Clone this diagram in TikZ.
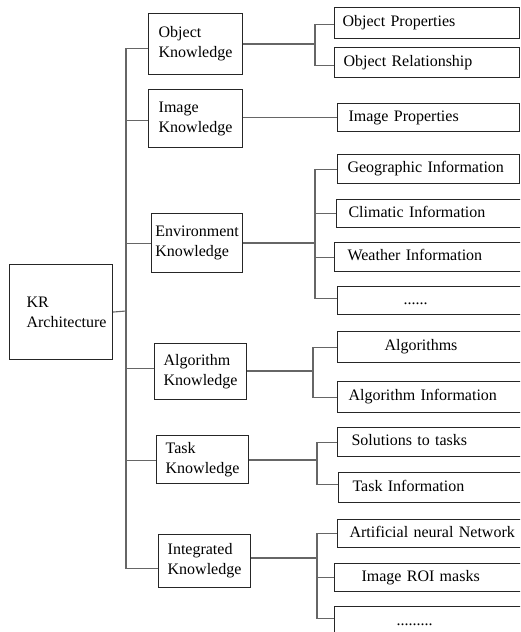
\documentclass[tikz,border=0pt]{standalone}
\usepackage{fontspec}
\setmainfont{Liberation Serif}
\begin{document}
\begin{tikzpicture}[x=1pt,y=-1pt,
  every node/.style={font=\fontsize{16}{20}\selectfont},
  main/.style={draw=black!85, line width=1.1pt, align=left, inner sep=0pt, anchor=north west},
  sub/.style={draw=black!85, line width=1.1pt, align=left, inner sep=0pt, text height=11pt, text depth=4pt, anchor=north west},
  conn/.style={draw=black!60, line width=1.1pt}]
\useasboundingbox (0,0) rectangle (520,632);
\clip (0,0) rectangle (520,632);
% main boxes
\node[main, minimum width=103, minimum height=95] (kr) at (9,264) {\hspace*{11pt}KR\\\hspace*{11pt}Architecture};
\node[main, minimum width=94, minimum height=61] (ok) at (148,13) {Object\\Knowledge};
\node[main, minimum width=94, minimum height=58] (ik) at (148,89) {Image\\Knowledge};
\node[main, minimum width=91, minimum height=59] (ek) at (151,213) {Environment\\Knowledge};
\node[main, minimum width=92, minimum height=56] (ak) at (154,343) {Algorithm\\Knowledge};
\node[main, minimum width=92, minimum height=48] (tk) at (156,435) {Task\\Knowledge};
\node[main, minimum width=92, minimum height=53] (ig) at (158,534) {Integrated\\Knowledge};
% sub boxes
\node[sub, text width=185, minimum height=31] (op) at (334,7) {\hspace*{8pt}Object Properties};
\node[sub, text width=185, minimum height=30] (orl) at (334,47) {\hspace*{9pt}Object Relationship};
\node[sub, text width=182, minimum height=28] (ip) at (337,103) {\hspace*{11pt}Image Properties};
\node[sub, text width=182, minimum height=29] (geo) at (337,154) {\hspace*{10pt}Geographic Information};
\node[sub, text width=200, minimum height=28] (cli) at (336,199) {\hspace*{12pt}Climatic Information};
\node[sub, text width=200, minimum height=29] (wea) at (334,242) {\hspace*{13pt}Weather Information};
\node[sub, text width=200, minimum height=28] (dots1) at (337,286) {\hspace*{66pt}......};
\node[sub, text width=200, minimum height=31] (alg) at (337,331) {\hspace*{47pt}Algorithms};
\node[sub, text width=200, minimum height=31] (algi) at (337,381) {\hspace*{11pt}Algorithm Information};
\node[sub, text width=200, minimum height=29] (sol) at (337,427) {\hspace*{14pt}Solutions to tasks};
\node[sub, text width=200, minimum height=30] (ti) at (338,472) {\hspace*{14pt}Task Information};
\node[sub, text width=200, minimum height=28] (ann) at (337,519) {\hspace*{12pt}Artificial neural Network};
\node[sub, text width=200, minimum height=28] (roi) at (334,563) {\hspace*{27pt}Image ROI masks};
\node[sub, text width=200, minimum height=44, text depth=17pt] (dots2) at (334,606) {\hspace*{62pt}.........};
% trunk
\coordinate (kj) at (126,311);
\draw[conn] (kr.east) -- (kj);
\draw[conn] ([yshift=-4.5pt]ok.west) -| (kj);
\draw[conn] ([yshift=-2pt]ik.west) -| (kj);
\draw[conn] (ek.west) -| (kj);
\draw[conn] ([yshift=3pt]ak.west) -| (kj);
\draw[conn] ([yshift=-1pt]tk.west) -| (kj);
\draw[conn] ([yshift=-7.5pt]ig.west) -| (kj);
% object branch
\coordinate (j1) at (315,44);
\draw[conn] (j1 -| ok.east) -- (j1);
\draw[conn] ([yshift=-1.5pt]op.west) -| (j1);
\draw[conn] ([yshift=-3pt]orl.west) -| (j1);
% image branch
\draw[conn] (ip.west) -- (ip.west -| ik.east);
% environment branch
\coordinate (j3) at (315,243);
\draw[conn] (j3 -| ek.east) -- (j3);
\draw[conn] (geo.west) -| (j3);
\draw[conn] (cli.west) -| (j3);
\draw[conn] (wea.west) -| (j3);
\draw[conn] ([yshift=2pt]dots1.west) -| (j3);
% algorithm branch
\coordinate (j4) at (313,371);
\draw[conn] (j4 -| ak.east) -- (j4);
\draw[conn] (alg.west) -| (j4);
\draw[conn] (algi.west) -| (j4);
% task branch
\coordinate (j5) at (317,460);
\draw[conn] (j5 -| tk.east) -- (j5);
\draw[conn] (sol.west) -| (j5);
\draw[conn] ([yshift=3pt]ti.west) -| (j5);
% integrated branch
\coordinate (j6) at (317,558);
\draw[conn] (j6 -| ig.east) -- (j6);
\draw[conn] (ann.west) -| (j6);
\draw[conn] (roi.west) -| (j6);
\draw[conn] ([yshift=10pt]dots2.west) -| (j6);
\end{tikzpicture}
\end{document}
